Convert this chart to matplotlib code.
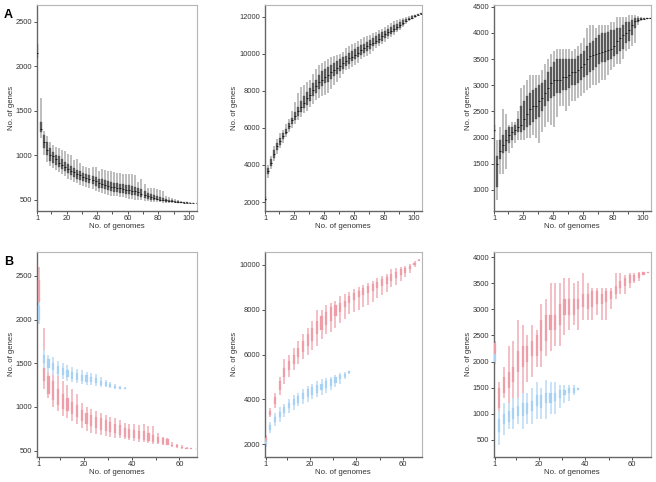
import matplotlib
matplotlib.use("Agg")
import matplotlib.pyplot as plt

# ---------------- data ----------------
genomes_A = list(range(1, 106, 2))

a1_lo  = [2000,1200,1000,930,880,860,840,810,790,770,740,720,700,690,670,660,650,640,620,600,590,580,570,560,550,545,540,535,530,520,515,510,505,500,495,490,485,480,478,475,472,470,468,466,465,463,462,470,470,470,470,470,470]
a1_q1  = [2100,1260,1080,1000,940,910,890,870,850,830,800,780,760,740,720,710,700,690,680,660,640,630,620,610,600,590,585,580,575,570,565,560,555,540,530,520,510,505,500,495,490,485,480,478,475,472,471,470,470,470,470,470,470]
a1_med = [2150,1300,1150,1060,1010,990,960,920,890,870,850,830,810,790,775,760,750,740,725,710,690,680,670,660,650,645,640,635,625,615,610,605,600,585,570,560,545,535,525,515,505,500,495,490,485,480,476,473,471,470,470,470,470]
a1_q3  = [2250,1380,1230,1150,1080,1040,1010,990,960,930,900,880,860,840,820,800,790,780,770,760,740,730,720,710,700,690,690,685,680,670,670,660,650,630,620,600,580,570,560,545,530,520,510,505,498,490,485,480,475,472,471,470,470]
a1_hi  = [2400,1650,1280,1220,1150,1120,1100,1080,1060,1050,1020,1000,950,960,920,880,870,860,870,870,830,850,840,830,820,810,800,800,790,790,790,790,780,700,730,680,640,630,630,620,610,600,540,530,520,510,500,490,480,475,472,471,470]

a2_lo  = [1950,3300,3800,4200,4600,4900,5200,5500,5800,6000,6200,6400,6600,6800,6900,7100,7300,7500,7600,7700,7800,7900,8100,8300,8500,8700,8900,9100,9200,9300,9400,9500,9700,9800,9900,10000,10150,10300,10400,10500,10650,10800,10900,11000,11150,11300,11450,11600,11750,11850,11950,12050,12150]
a2_q1  = [2050,3500,3950,4400,4800,5100,5400,5650,5950,6200,6450,6650,6850,7050,7250,7450,7700,7900,8100,8250,8400,8500,8650,8800,8900,9050,9200,9350,9450,9600,9700,9800,9950,10050,10150,10250,10400,10500,10600,10700,10850,10950,11050,11150,11300,11400,11550,11700,11820,11900,11990,12080,12150]
a2_med = [2150,3700,4100,4600,5000,5300,5550,5800,6100,6400,6650,6900,7100,7350,7600,7800,8050,8250,8450,8600,8750,8850,9000,9100,9250,9350,9500,9600,9750,9850,9950,10050,10200,10300,10400,10500,10600,10700,10800,10950,11050,11150,11250,11350,11450,11550,11650,11780,11880,11950,12030,12110,12170]
a2_q3  = [2250,3850,4300,4800,5200,5450,5700,5950,6250,6550,6850,7150,7450,7700,7950,8150,8400,8600,8850,9050,9200,9300,9400,9500,9600,9700,9800,9900,10050,10150,10250,10350,10450,10550,10650,10750,10850,10950,11050,11150,11250,11350,11450,11550,11600,11700,11800,11880,11950,12020,12070,12130,12180]
a2_hi  = [2400,4000,4500,5000,5400,5700,5900,6200,6500,6900,7400,7900,8200,8300,8500,8600,8900,9200,9400,9500,9600,9700,9800,9900,9950,10000,10100,10300,10400,10500,10600,10700,10800,10900,10950,11000,11100,11200,11300,11350,11450,11550,11650,11750,11800,11850,11950,12000,12050,12080,12110,12150,12200]

a3_lo  = [2000,800,1300,1300,1400,1700,1800,1900,1950,1950,1950,2000,2000,2050,2000,1900,2100,2200,2300,2250,2200,2400,2600,2600,2500,2600,2700,2700,2750,2800,2850,2900,2950,3000,3000,3050,3100,3100,3200,3300,3350,3400,3400,3500,3650,3700,3750,3800,4150,4220,4250,4260,4270]
a3_q1  = [2100,1050,1600,1700,1750,1900,1950,2050,2100,2100,2150,2200,2250,2300,2350,2400,2500,2600,2700,2750,2800,2850,2850,2900,2900,2950,3000,3000,3050,3100,3150,3200,3250,3300,3350,3400,3450,3450,3480,3500,3550,3600,3650,3700,3800,3850,3950,4100,4200,4240,4260,4270,4275]
a3_med = [2150,1500,1750,1850,1950,2050,2100,2150,2200,2250,2350,2450,2550,2600,2600,2700,2750,2850,2950,3050,3100,3100,3100,3150,3150,3200,3250,3250,3300,3350,3400,3500,3550,3580,3600,3620,3640,3650,3680,3700,3750,3850,3900,3950,4000,4050,4150,4220,4250,4260,4270,4275,4280]
a3_q3  = [2250,1650,1950,2050,2150,2200,2200,2250,2350,2600,2700,2800,2850,2900,2950,3000,3050,3100,3250,3350,3450,3500,3500,3500,3500,3500,3500,3500,3550,3600,3650,3750,3800,3850,3900,3950,4000,4000,4020,4050,4050,4100,4100,4150,4200,4200,4250,4280,4290,4280,4280,4280,4285]
a3_hi  = [2400,1950,2200,2550,2450,2250,2300,2300,2500,2950,3000,3100,3200,3200,3200,3200,3300,3400,3500,3600,3650,3700,3700,3700,3700,3700,3650,3700,3750,3800,3900,4100,4150,4150,4100,4150,4150,4150,4150,4200,4200,4300,4300,4300,4300,4350,4350,4350,4330,4300,4290,4290,4290]

genomes_pink = list(range(1, 68, 2))
genomes_blue = list(range(1, 38, 2))

b1p_lo = [2100,1200,1100,1000,950,900,870,840,800,760,720,700,690,680,670,660,650,640,630,620,610,600,595,590,580,575,570,560,540,530,525,520,520,520]
b1p_q1 = [2200,1300,1150,1080,1020,980,950,920,880,840,800,780,760,740,720,710,700,680,660,650,640,630,620,610,600,590,580,570,550,540,530,525,522,520]
b1p_q3 = [2450,1450,1350,1300,1200,1150,1100,1060,1020,960,930,910,890,870,850,830,810,790,760,750,740,730,720,700,680,660,640,630,570,560,545,535,528,522]
b1p_hi = [2600,1900,1500,1400,1350,1300,1250,1200,1150,1050,1000,980,950,930,910,890,870,850,820,800,800,790,800,780,780,700,660,650,600,580,560,545,535,525]

b1b_lo = [1950,1450,1400,1370,1350,1320,1300,1290,1270,1260,1250,1250,1240,1230,1225,1215,1210,1205,1200]
b1b_q1 = [2000,1500,1450,1420,1380,1360,1340,1320,1310,1300,1290,1280,1270,1255,1245,1230,1220,1210,1205]
b1b_q3 = [2150,1600,1550,1500,1470,1450,1420,1400,1390,1370,1360,1340,1330,1300,1285,1265,1245,1230,1215]
b1b_hi = [2200,1650,1600,1570,1530,1500,1480,1460,1440,1420,1400,1390,1380,1340,1310,1290,1265,1245,1225]

b2p_lo = [2000,3200,3600,4200,4700,5000,5300,5600,5800,6000,6200,6400,6700,6900,7000,7200,7400,7600,7800,7900,8000,8100,8200,8350,8500,8650,8800,9000,9100,9300,9450,9650,9900,10150]
b2p_q1 = [2100,3300,3800,4400,5000,5300,5600,5900,6100,6400,6600,6900,7100,7300,7500,7700,7900,8100,8300,8450,8550,8650,8750,8850,8950,9050,9150,9300,9400,9550,9650,9800,10000,10180]
b2p_q3 = [2300,3500,4100,4800,5400,5700,6000,6300,6600,6900,7200,7500,7700,7900,8100,8200,8300,8400,8600,8750,8850,8950,9050,9150,9250,9350,9450,9600,9700,9800,9850,9950,10100,10220]
b2p_hi = [2400,3600,4300,5000,5800,6000,6300,6600,6900,7200,7500,8000,8000,8200,8300,8400,8600,8700,8800,8900,9000,9100,9200,9300,9400,9500,9600,9800,9850,9900,9950,10050,10150,10240]

b2b_lo = [1900,2500,2800,3000,3200,3400,3550,3700,3800,3900,4000,4100,4200,4300,4400,4550,4700,4900,5150]
b2b_q1 = [2000,2650,3000,3200,3400,3600,3750,3850,4000,4100,4200,4300,4400,4500,4600,4750,4900,5000,5200]
b2b_q3 = [2150,2850,3200,3450,3650,3850,4000,4150,4300,4450,4550,4650,4700,4800,4900,5000,5100,5150,5250]
b2b_hi = [2200,3000,3400,3650,3800,4000,4200,4300,4450,4600,4700,4800,4900,4950,5000,5100,5200,5230,5270]

b3p_lo = [2100,1000,1300,1100,1200,1300,1300,1600,1700,1900,1900,2100,2200,2300,2300,2500,2600,2700,2600,2800,2800,2800,2900,2800,2800,3000,3200,3300,3300,3400,3500,3550,3650,3700]
b3p_q1 = [2150,1100,1400,1500,1600,1800,1900,2000,2100,2100,2200,2400,2600,2600,2700,2900,2900,2900,3000,3050,3000,3050,3100,3100,3150,3200,3300,3400,3450,3500,3550,3600,3660,3700]
b3p_q3 = [2350,1500,1700,1800,1900,2200,2300,2300,2400,2500,2800,2900,2900,2900,3100,3200,3200,3200,3200,3300,3300,3350,3350,3300,3350,3350,3450,3550,3600,3650,3650,3700,3710,3715]
b3p_hi = [2400,1600,1900,2300,2400,2800,2700,2500,2700,2600,3100,3200,3500,3500,3500,3600,3600,3500,3550,3700,3500,3400,3400,3400,3400,3400,3700,3700,3650,3700,3700,3720,3720,3720]

b3b_lo = [1950,400,600,700,700,800,700,800,800,900,900,900,1000,1000,1100,1200,1250,1350,1450]
b3b_q1 = [2000,650,800,850,900,950,950,1000,1050,1150,1100,1200,1200,1250,1300,1350,1400,1400,1460]
b3b_q3 = [2150,900,1000,1050,1100,1150,1200,1200,1250,1350,1350,1400,1400,1400,1450,1450,1500,1500,1490]
b3b_hi = [2200,1050,1200,1200,1300,1300,1400,1400,1500,1600,1500,1650,1600,1600,1550,1550,1550,1550,1500]

ylabel = "No. of genes"
xlabel = "No. of genomes"

# ---------------- drawing ----------------
plt.rcParams['font.family'] = ['Liberation Sans', 'DejaVu Sans']
fig = plt.figure(figsize=(6.56, 4.82), dpi=100)

W, H = 656.0, 482.0
def make_ax(left, top, w, h):
    return fig.add_axes([left / W, 1 - (top + h) / H, w / W, h / H])

def style(ax, xlim, ylim, yticks, xmajor, xminor):
    ax.set_xlim(*xlim)
    ax.set_ylim(*ylim)
    ax.set_yticks(yticks)
    ax.set_xticks(xmajor)
    ax.set_xticks(xminor, minor=True)
    ax.tick_params(axis='both', which='both', direction='out', labelsize=5.4,
                   colors='#333333', length=2, width=0.6, pad=1.2)
    ax.tick_params(axis='y', which='minor', left=False)
    for s in ['left', 'bottom']:
        ax.spines[s].set_color('#666666')
        ax.spines[s].set_linewidth(1.0)
    for s in ['top', 'right']:
        ax.spines[s].set_color('#b5b5b5')
        ax.spines[s].set_linewidth(0.8)
    ax.set_ylabel(ylabel, fontsize=5.6, color='#333333', labelpad=1)
    ax.set_xlabel(xlabel, fontsize=5.7, color='#333333', labelpad=0.3)

def draw_boxes(ax, x, lo, q1, q3, hi, med=None, box_c='#5e5e5e', wh_c='#ababab',
               edge_c='#444444', width=1.3, wlw=1.1):
    ax.vlines(x, lo, hi, colors=wh_c, linewidth=wlw, zorder=2)
    heights = [b - a for a, b in zip(q1, q3)]
    ax.bar(x, heights, bottom=q1, width=width, color=box_c, edgecolor=edge_c,
           linewidth=0.2, zorder=3)
    if med is not None:
        ax.hlines(med, [v - width / 2 for v in x], [v + width / 2 for v in x],
                  colors='#111111', linewidth=0.6, zorder=4)

xA_major = [1, 20, 40, 60, 80, 100]
xA_minor = [10, 30, 50, 70, 90]
xB_major = [1, 20, 40, 60]
xB_minor = [10, 30, 50]

ax1 = make_ax(37, 5, 160, 206)
draw_boxes(ax1, genomes_A, a1_lo, a1_q1, a1_q3, a1_hi, a1_med)
style(ax1, (0.7, 105.3), (376, 2691), [500, 1000, 1500, 2000, 2500], xA_major, xA_minor)

ax2 = make_ax(265, 5, 156.5, 206)
draw_boxes(ax2, genomes_A, a2_lo, a2_q1, a2_q3, a2_hi, a2_med)
style(ax2, (0.7, 105.3), (1515, 12630), [2000, 4000, 6000, 8000, 10000, 12000], xA_major, xA_minor)

ax3 = make_ax(494, 5, 156.5, 206)
draw_boxes(ax3, genomes_A, a3_lo, a3_q1, a3_q3, a3_hi, a3_med)
style(ax3, (0.7, 105.3), (599, 4532), [1000, 1500, 2000, 2500, 3000, 3500, 4000, 4500], xA_major, xA_minor)

pink_box, pink_wh = '#ee9ea9', '#f4bfc7'
blue_box, blue_wh = '#a9d1f1', '#c9e2f7'

def draw_b(ax, gp, plo, pq1, pq3, phi, gb, blo, bq1, bq3, bhi):
    draw_boxes(ax, gp, plo, pq1, pq3, phi, box_c=pink_box, wh_c=pink_wh,
               edge_c=pink_box, width=0.9, wlw=1.4)
    draw_boxes(ax, gb, blo, bq1, bq3, bhi, box_c=blue_box, wh_c=blue_wh,
               edge_c=blue_box, width=0.9, wlw=1.4)

ax4 = make_ax(37, 251.5, 160, 205.5)
draw_b(ax4, genomes_pink, b1p_lo, b1p_q1, b1p_q3, b1p_hi, genomes_blue, b1b_lo, b1b_q1, b1b_q3, b1b_hi)
style(ax4, (0.2, 67.4), (428, 2778), [500, 1000, 1500, 2000, 2500], xB_major, xB_minor)

ax5 = make_ax(265, 251.5, 156.5, 205.5)
draw_b(ax5, genomes_pink, b2p_lo, b2p_q1, b2p_q3, b2p_hi, genomes_blue, b2b_lo, b2b_q1, b2b_q3, b2b_hi)
style(ax5, (0.7, 68), (1434, 10593), [2000, 4000, 6000, 8000, 10000], xB_major, xB_minor)

ax6 = make_ax(494, 251.5, 156.5, 205.5)
draw_b(ax6, genomes_pink, b3p_lo, b3p_q1, b3p_q3, b3p_hi, genomes_blue, b3b_lo, b3b_q1, b3b_q3, b3b_hi)
style(ax6, (0.7, 68), (170, 4109), [500, 1000, 1500, 2000, 2500, 3000, 3500, 4000], xB_major, xB_minor)

fig.text(4 / W, 1 - 15 / H, "A", fontsize=9, fontweight='bold', va='center', ha='left')
fig.text(4 / W, 1 - 262 / H, "B", fontsize=9, fontweight='bold', va='center', ha='left')

fig.savefig("out.png", dpi=100)
